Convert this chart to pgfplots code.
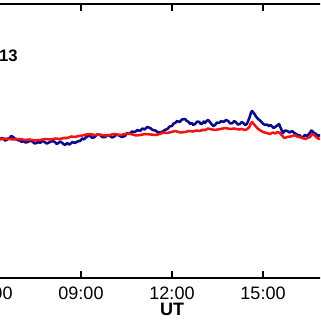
\documentclass[border=0pt]{standalone}
\usepackage{pgfplots}
\pgfplotsset{compat=1.18}
\usepackage{fontspec}
\setmainfont{Liberation Sans}
\definecolor{navyline}{RGB}{10,10,140}
\definecolor{redline}{RGB}{240,20,20}
\pgfplotstableread{
h v
6.33 138.5
6.39 140
6.45 139
6.50 137.5
6.55 138
6.60 139.5
6.65 140
6.70 142
6.76 141
6.81 139.5
6.87 139
6.93 137.5
6.99 138
7.04 136
7.10 137
7.17 135.5
7.25 136
7.32 137.5
7.40 136.5
7.47 134.5
7.55 135
7.60 136.5
7.65 135
7.72 137
7.80 136
7.87 134.5
7.95 135.5
8.05 137
8.14 136
8.20 134
8.25 135
8.32 136.5
8.40 134.5
8.47 133
8.55 135
8.60 133.5
8.64 134
8.72 136
8.80 135
8.88 136.5
8.97 137
9.04 139.5
9.10 138.5
9.15 140.5
9.20 141
9.25 143
9.30 142
9.37 140
9.45 141
9.53 143.5
9.63 143
9.70 141
9.80 141
9.88 143
9.96 142
10.03 140.5
10.10 141.5
10.17 143.5
10.25 142.5
10.35 141
10.45 142
10.52 145
10.60 144
10.68 146.5
10.78 146
10.86 148
10.95 147
11.02 149.5
11.10 148.5
11.18 151
11.28 150
11.36 148
11.45 147.5
11.55 145.5
11.67 146
11.76 148
11.85 149
11.92 151.5
12.00 152
12.05 154.5
12.10 155
12.17 157
12.25 156
12.33 158.5
12.43 159
12.49 157
12.55 156
12.60 154
12.65 155
12.70 153
12.76 154
12.83 156.5
12.90 156
12.95 154
13.00 154.5
13.05 156.5
13.09 155
13.14 157
13.19 158
13.25 156
13.30 154
13.36 152
13.42 153
13.48 155.5
13.55 155
13.62 157
13.70 156
13.78 158
13.85 157
13.92 154.5
14.00 155
14.05 157
14.10 156
14.17 153.5
14.24 154
14.30 156
14.35 155
14.41 153
14.47 154
14.51 157
14.55 160
14.60 165
14.64 167
14.68 165.5
14.72 164
14.78 161
14.84 159
14.90 157.5
14.95 156
15.01 154
15.07 153
15.13 153.5
15.20 152
15.25 153
15.30 151.5
15.35 150
15.40 151
15.47 152.5
15.53 154
15.57 151
15.60 149
15.63 146.5
15.66 145
15.73 147.5
15.80 147
15.88 145.5
15.96 147
16.03 145
16.10 144
16.15 142
16.20 143
16.26 140.5
16.32 141
16.38 143
16.45 142
16.50 143.5
16.55 145
16.59 147.5
16.62 147
16.68 145
16.75 144
16.81 142
16.88 143
16.94 141
17.00 142
}\bluedata
\pgfplotstableread{
h v
6.33 138.5
6.47 139.5
6.60 139
6.80 138.5
6.99 139
7.15 138
7.30 138.5
7.48 137.5
7.65 138
7.82 139
8.00 138.5
8.15 139.5
8.31 139
8.43 140
8.55 140
8.68 141.5
8.80 141
8.92 142
9.05 142.5
9.18 143.5
9.30 144
9.45 143
9.60 143.5
9.78 142.5
9.96 143
10.08 144
10.20 143.5
10.32 143
10.45 144
10.58 144.5
10.70 143.5
10.82 142.5
10.95 143
11.12 144
11.30 143.5
11.45 143
11.60 144
11.72 145.5
11.85 145
11.98 146
12.10 147
12.27 145.5
12.43 146
12.57 147
12.70 146.5
12.80 147.5
12.92 147
13.00 148
13.10 148
13.18 149.5
13.25 149
13.42 148
13.60 149
13.75 150
13.91 149
14.05 149.5
14.20 148.5
14.30 149
14.41 148
14.48 149
14.55 151
14.60 154.5
14.64 156
14.68 154.5
14.72 153
14.78 151
14.84 149
14.92 147.5
15.00 146
15.12 145
15.23 144
15.32 145.5
15.40 144.5
15.48 146
15.56 145
15.61 143
15.65 142
15.68 140.5
15.72 140
15.80 141
15.90 141.5
15.98 142
16.05 143
16.12 141.5
16.20 141
16.30 140
16.38 139
16.47 140
16.55 141
16.60 143
16.65 144
16.70 142.5
16.75 141
16.82 139.5
16.88 139
16.94 140
17.00 139
}\reddata
\begin{document}
\begin{tikzpicture}
\useasboundingbox (0,0) rectangle (240pt,240pt);
\clip (0,0) rectangle (240pt,240pt);
\begin{axis}[
  at={(-7.5pt,31.5pt)}, anchor=south west,
  scale only axis, width=273pt, height=205.5pt,
  xmin=6, xmax=18, ymin=0, ymax=274,
  xtick={6,9,12,15,18},
  xticklabels={06:00,09:00,12:00,15:00,},
  ytick=\empty,
  tick align=inside, major tick length=5pt,
  xtick pos=both,
  axis line style={line width=0.8pt},
  every tick/.style={black, line width=0.8pt},
  xticklabel style={font=\fontsize{13.5}{15}\selectfont, yshift=-3pt},
  xlabel={\textbf{UT}},
  xlabel style={font=\fontsize{13.5}{15}\selectfont, yshift=4pt},
]
\addplot[navyline, line width=1.9pt, line join=round] table[x=h,y=v] {\bluedata};
\addplot[redline, line width=1.9pt, line join=round] table[x=h,y=v] {\reddata};
\node[anchor=base east, font=\fontsize{12.5}{14}\selectfont\bfseries, inner sep=0pt] at (axis cs:6.92,216) {2013};
\end{axis}
\end{tikzpicture}
\end{document}
